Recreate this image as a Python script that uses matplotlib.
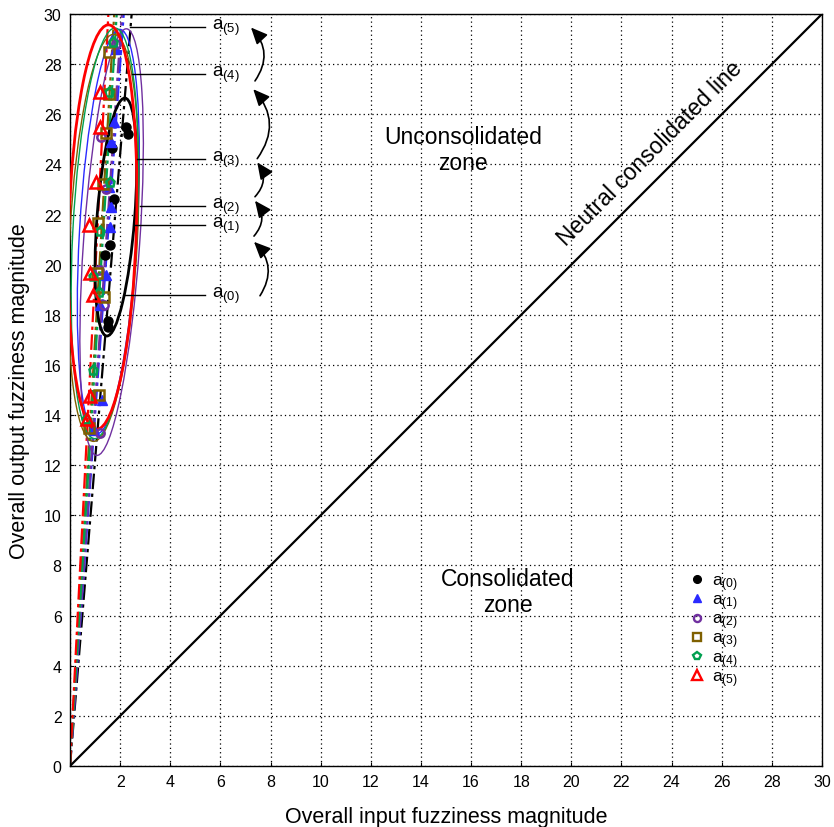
import matplotlib
matplotlib.use("Agg")
import matplotlib.pyplot as plt
from matplotlib.patches import Ellipse
from matplotlib.lines import Line2D
import numpy as np

plt.rcParams['font.family'] = ['Liberation Sans', 'DejaVu Sans']
plt.rcParams['mathtext.fontset'] = 'custom'
plt.rcParams['mathtext.rm'] = 'Liberation Sans'
plt.rcParams['mathtext.it'] = 'Liberation Sans'

# ---------------- data ----------------
series = ['a0', 'a1', 'a2', 'a3', 'a4', 'a5']
labels = [r'a$_{\mathrm{(0)}}$', r'a$_{\mathrm{(1)}}$', r'a$_{\mathrm{(2)}}$',
          r'a$_{\mathrm{(3)}}$', r'a$_{\mathrm{(4)}}$', r'a$_{\mathrm{(5)}}$']

a0_x = [2.25, 2.3, 1.66, 1.77, 1.6, 1.4, 1.53, 1.53]
a0_y = [25.5, 25.2, 24.67, 22.6, 20.8, 20.4, 17.76, 17.5]
a1_x = [1.85, 1.75, 1.65, 1.55, 1.65, 1.6, 1.45, 1.2, 1.26, 0.95]
a1_y = [28.6, 25.7, 24.9, 23.1, 22.3, 21.5, 19.6, 18.4, 14.6, 13.4]
a2_x = [1.85, 1.25, 1.45, 1.15, 1.35, 1.2]
a2_y = [28.8, 25.1, 23.0, 19.8, 18.4, 13.3]
a3_x = [1.57, 1.57, 1.44, 1.3, 1.13, 1.06, 1.36, 1.17, 0.77]
a3_y = [28.5, 26.8, 25.27, 23.2, 21.66, 19.68, 18.73, 14.79, 13.5]
a4_x = [1.7, 1.57, 1.6, 1.2, 0.93, 1.17, 0.93, 0.64]
a4_y = [28.9, 26.9, 23.3, 21.35, 19.55, 18.9, 15.8, 13.84]
a5_x = [1.2, 1.2, 1.04, 0.77, 0.8, 0.9, 0.8, 0.69]
a5_y = [26.9, 25.5, 23.3, 21.6, 19.68, 18.8, 14.77, 13.84]

points_x = [a0_x, a1_x, a2_x, a3_x, a4_x, a5_x]
points_y = [a0_y, a1_y, a2_y, a3_y, a4_y, a5_y]

# ellipse: centre, semi-axes, tilt (deg)
ell_cx = [1.83, 1.53, 1.66, 1.34, 1.39, 1.30]
ell_cy = [21.9, 21.32, 20.9, 21.07, 21.25, 21.5]
ell_semi_minor = [0.75, 1.15, 1.12, 1.35, 1.28, 1.35]
ell_semi_major = [4.76, 8.08, 8.53, 8.13, 8.2, 8.07]
ell_tilt = [-4.4, -3.3, -4.0, -2.9, -2.9, -1.7]

# slope of dash-dot ray from origin
ray_slopes = [12.2, 14.0, 14.5, 17.0, 16.1, 19.6]

# label callouts
callout_y = [18.79, 21.58, 22.34, 24.21, 27.6, 29.48]
callout_x0 = [2.19, 2.59, 2.79, 2.66, 2.46, 2.39]
callout_x1 = 5.39
callout_text_x = 5.66

# curved arrows (tail, head)
arrow_tail = [(7.58, 18.76), (7.34, 21.14), (7.38, 22.71), (7.47, 24.23), (7.38, 27.33)]
arrow_head = [(7.34, 20.91), (7.38, 22.55), (7.47, 24.08), (7.31, 27.0), (7.22, 29.46)]

colors = ['black', '#2a2aff', '#7030a0', '#7f6000', '#00a050', '#ff0000']
markers = ['o', '^', 'o', 's', 'p', '^']
filled = [True, True, False, False, False, False]
msizes = [6.5, 7.5, 6, 7, 6.5, 8.5]
ell_lw = [2.0, 1.0, 1.0, 1.0, 1.0, 2.0]

ticks = list(range(0, 31, 2))

# ---------------- figure ----------------
fig = plt.figure(figsize=(8.34, 8.28), dpi=100)
ax = fig.add_axes([70/834, 1 - 767/828, 752/834, 752/828])
ax.set_xlim(0, 30)
ax.set_ylim(0, 30)

ax.set_xticks(ticks)
ax.set_yticks(ticks)
ax.set_xticklabels(['' if t == 0 else str(t) for t in ticks], fontsize=11.5)
ax.set_yticklabels([str(t) for t in ticks], fontsize=11.5)
ax.tick_params(direction='in', length=3, width=0.8, pad=6)
ax.grid(True, color='black', linestyle=(0, (1, 2.5)), linewidth=0.9)
ax.set_axisbelow(True)
for s in ax.spines.values():
    s.set_linewidth(1.0)

# neutral line
ax.plot([0, 30], [0, 30], color='black', lw=1.6, zorder=3)

# rays
for k, c in zip(ray_slopes, colors):
    ax.plot([0, 30 / k], [0, 30], color=c, lw=1.6,
            linestyle=(0, (7, 2, 1.5, 2)), zorder=2)

# ellipses
for i in range(6):
    e = Ellipse((ell_cx[i], ell_cy[i]), 2 * ell_semi_minor[i], 2 * ell_semi_major[i],
                angle=ell_tilt[i], fill=False, edgecolor=colors[i], lw=ell_lw[i], zorder=4)
    ax.add_patch(e)

# points
handles = []
for i in range(6):
    fc = colors[i] if filled[i] else 'none'
    ax.plot(points_x[i], points_y[i], linestyle='none', marker=markers[i],
            markersize=msizes[i], markerfacecolor=fc, markeredgecolor=colors[i],
            markeredgewidth=1.0 if filled[i] else 1.8, zorder=5)
    handles.append(Line2D([], [], linestyle='none', marker=markers[i],
                          markersize=msizes[i] * 0.85, markerfacecolor=fc,
                          markeredgecolor=colors[i],
                          markeredgewidth=1.0 if filled[i] else 1.7))

# callouts
for i in range(6):
    ax.plot([callout_x0[i], callout_x1], [callout_y[i], callout_y[i]],
            color='black', lw=1.0, zorder=6)
    ax.text(callout_text_x, callout_y[i], labels[i], fontsize=13.5,
            ha='left', va='center', zorder=6)

# curved arrows
for t, h in zip(arrow_tail, arrow_head):
    ax.annotate('', xy=h, xytext=t,
                arrowprops=dict(arrowstyle='-|>,head_length=1.0,head_width=0.45',
                                color='black', lw=1.2,
                                connectionstyle='arc3,rad=0.4',
                                shrinkA=0, shrinkB=0))

# zone texts
ax.text(15.68, 24.6, 'Unconsolidated\nzone', fontsize=16.5, ha='center', va='center',
        linespacing=1.15)
ax.text(17.47, 6.95, 'Consolidated\nzone', fontsize=16.5, ha='center', va='center',
        linespacing=1.15)
ax.text(23.14, 24.45, 'Neutral consolidated line', fontsize=16.5, rotation=45,
        rotation_mode='anchor', ha='center', va='center')

ax.set_xlabel('Overall input fuzziness magnitude', fontsize=15.5, labelpad=12)
ax.set_ylabel('Overall output fuzziness magnitude', fontsize=15.5, labelpad=10)

ax.legend(handles, labels, loc='upper left', bbox_to_anchor=(0.812, 0.268),
          frameon=False, fontsize=12.5, labelspacing=-0.04, handlelength=0.9,
          handletextpad=0.4, borderpad=0.0)

fig.savefig('out.png', dpi=100)
